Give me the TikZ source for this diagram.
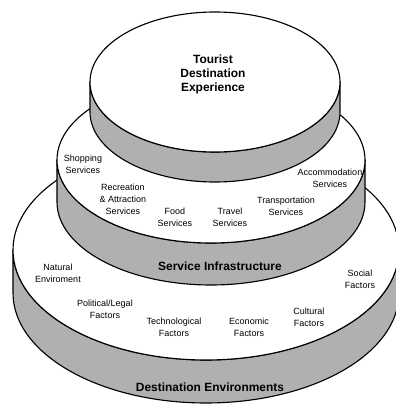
\documentclass[tikz,border=0pt]{standalone}
\usepackage{fontspec}
\setmainfont{Liberation Sans}
\usepackage{tikz}

\begin{document}
\begin{tikzpicture}[x=0.025cm,y=0.025cm,
	band/.style={fill=black!31,draw=black,line width=0.8pt},
	face/.style={fill=white,draw=black,line width=0.8pt},
	lbl/.style={align=center,inner sep=0pt,font=\fontsize{6.4}{8.5}\selectfont},
	ttl/.style={align=center,inner sep=0pt,font=\fontsize{8.5}{10}\selectfont\bfseries}]
	\useasboundingbox (0,0) rectangle (396,404);
	\clip (0,0) rectangle (396,404);

	%bottom disc
	\draw[band] (13,154) -- (13,111) arc[x radius = 193, y radius = 110, start angle= 180, end angle= 360] -- (399,154) arc[x radius = 193, y radius = 110, start angle= 0, end angle= -180] -- cycle;
	\draw[face] (206,154) ellipse (193 and 110);

	%middle disc
	\draw[band] (57,244) -- (57,202) arc[x radius = 154, y radius = 83, start angle= 180, end angle= 360] -- (365,244) arc[x radius = 154, y radius = 83, start angle= 0, end angle= -180] -- cycle;
	\draw[face] (211,244) ellipse (154 and 83);

	%top disc
	\draw[band] (90,322) -- (90,292) arc[x radius = 125, y radius = 70, start angle= 180, end angle= 360] -- (340,322) arc[x radius = 125, y radius = 70, start angle= 0, end angle= -180] -- cycle;
	\draw[face] (215,322) ellipse (125 and 70);

	%experience
	\node[ttl] (tde) at (213,330) {Tourist\\Destination\\Experience};

	%services
	\node[lbl] (shop) at (83,240) {Shopping\\Services};
	\node[lbl] (recr) at (123,205) {Recreation\\\& Attraction\\Services};
	\node[lbl] (food) at (175,187) {Food\\Services};
	\node[lbl] (trav) at (230,187) {Travel\\Services};
	\node[lbl] (tran) at (286,198) {Transportation\\Services};
	\node[lbl] (acco) at (330,226) {Accommodation\\Services};
	\node[ttl] (serv) at (220,138) {Service Infrastructure};

	%environments
	\node[lbl] (natu) at (58,131) {Natural\\Enviroment};
	\node[lbl] (poli) at (105,95) {Political/Legal\\Factors};
	\node[lbl] (tech) at (174,77) {Technological\\Factors};
	\node[lbl] (econ) at (249,77) {Economic\\Factors};
	\node[lbl] (cult) at (309,87) {Cultural\\Factors};
	\node[lbl] (soci) at (360,125) {Social\\Factors};
	\node[ttl] (denv) at (210,17) {Destination Environments};

\end{tikzpicture}
\end{document}
